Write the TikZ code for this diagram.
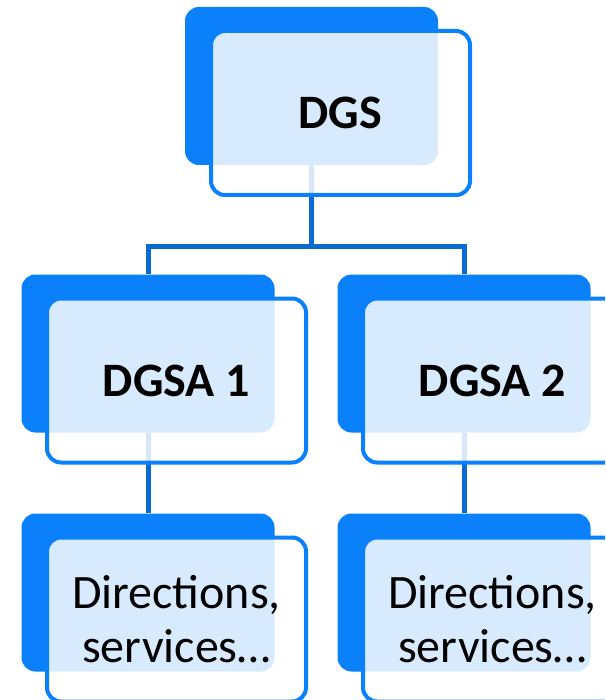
\documentclass[tikz,border=0pt]{standalone}
\usepackage{fontspec}
\setmainfont{Carlito}
\usepackage{tikz}
\usetikzlibrary{positioning}
\pgfdeclarelayer{bg}
\pgfsetlayers{bg,main}
\definecolor{boxblue}{HTML}{0A80FA}
\definecolor{linkblue}{HTML}{0A6AD2}

\begin{document}
\begin{tikzpicture}[x=1pt, y=-1pt,
back/.style={rectangle, rounded corners=14pt, fill=boxblue, minimum width=253pt, minimum height=158pt, inner sep=0pt},
front/.style={rectangle, rounded corners=14pt, draw=boxblue, line width=4pt, fill=white, fill opacity=0.84, text opacity=1, minimum width=259pt, minimum height=164pt, inner sep=0pt, align=center},
title/.style={front, font=\fontsize{48}{54}\selectfont\bfseries},
unit/.style={front, font=\fontsize{48}{54}\selectfont},
link/.style={draw=linkblue, line width=5pt},
]
\useasboundingbox (0,0) rectangle (605,700);
\clip (0,0) rectangle (605,700);

\begin{pgfonlayer}{bg}
	\node[back] (dgsB) at (311.5, 86) {};
	\node[back] (sa1B) at (148, 353.5) {};
	\node[back] (sa2B) at (464, 353.5) {};
	\node[back] (dir1B) at (148, 592.5) {};
	\node[back] (dir2B) at (464, 592.5) {};

	\coordinate (fork) at (311.5, 247);
	\draw[link] (dgsB.south) -- (fork) -| (sa1B.north);
	\draw[link] (fork) -| (sa2B.north);
	\draw[link] (sa1B.south) -- (dir1B.north);
	\draw[link] (sa2B.south) -- (dir2B.north);
\end{pgfonlayer}

\node[title] (dgs) at (340.5, 113) {DGS};
\node[title] (sa1) at (176.5, 380.5) {DGSA 1};
\node[title] (sa2) at (492.5, 380.5) {DGSA 2};
\node[unit] (dir1) at (176.5, 619.5) {Directions,\\services…};
\node[unit] (dir2) at (492.5, 619.5) {Directions,\\services…};
\end{tikzpicture}
\end{document}
